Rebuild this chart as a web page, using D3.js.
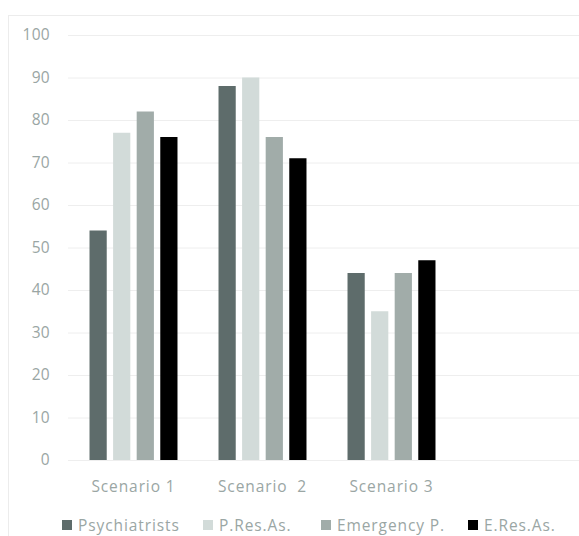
<!DOCTYPE html>
<html><head><meta charset="utf-8">
<script src="https://cdn.jsdelivr.net/npm/d3@7"></script>
<style>html,body{margin:0;padding:0;background:#fff;}svg{display:block;}</style>
</head><body>
<svg id="c" width="579" height="536"></svg>
<script>
const categories = ["Scenario 1", "Scenario  2", "Scenario 3"];
const seriesNames = ["Psychiatrists", "P.Res.As.", "Emergency P.", "E.Res.As."];
const psychiatrists = [54, 88, 44];
const pResAs = [77, 90, 35];
const emergencyP = [82, 76, 44];
const eResAs = [76, 71, 47];
const yTicks = [0, 10, 20, 30, 40, 50, 60, 70, 80, 90, 100];
const colors = ["#5e6c6b", "#d2dbd9", "#a1aca9", "#000000"];

const series = [psychiatrists, pResAs, emergencyP, eResAs];
const svg = d3.select("#c");
const textColor = "#9aa6a4";
const font = "'Open Sans', sans-serif";

// chart frame
svg.append("line").attr("x1", 8.5).attr("x2", 8.5).attr("y1", 15).attr("y2", 536).attr("stroke", "#ececec");
svg.append("line").attr("x1", 8).attr("x2", 579).attr("y1", 15.5).attr("y2", 15.5).attr("stroke", "#ececec");

const y = d3.scaleLinear().domain([0, 100]).range([460, 35]);
const x = d3.scaleBand().domain(categories).range([69, 69 + 129 * 3]).paddingInner(0.318).paddingOuter(0.159);
const xs = d3.scaleBand().domain(seriesNames).range([0, x.bandwidth()]).paddingInner(0.27);

// gridlines
const yAxis = d3.axisLeft(y).tickValues(yTicks).tickSize(-(579 - 68)).tickPadding(18);
const gy = svg.append("g").attr("transform", "translate(68,0)").call(yAxis);
gy.select(".domain").remove();
gy.selectAll(".tick line").attr("stroke", "#eeeeee");
gy.selectAll(".tick text").attr("fill", textColor).attr("font-family", font).attr("font-size", 15.5)
  .attr("letter-spacing", "0.3px");

// bars
const groups = svg.append("g").selectAll("g").data(categories).join("g")
  .attr("transform", d => `translate(${x(d)},0)`);
groups.selectAll("rect").data((d, i) => seriesNames.map((s, j) => ({ s, j, v: series[j][i] })))
  .join("rect")
  .attr("x", d => xs(d.s))
  .attr("width", xs.bandwidth())
  .attr("y", d => y(d.v))
  .attr("height", d => y(0) - y(d.v))
  .attr("fill", d => colors[d.j]);

// x axis labels
const xAxis = d3.axisBottom(x).tickSize(0).tickPadding(21);
const gx = svg.append("g").attr("transform", "translate(0,460)").call(xAxis);
gx.select(".domain").remove();
gx.selectAll(".tick text").attr("fill", textColor).attr("font-family", font).attr("font-size", 15.5)
  .attr("letter-spacing", "0.9px").style("white-space", "pre");

// legend
const legendX = [62, 203, 321, 468];
const leg = svg.append("g").selectAll("g").data(seriesNames).join("g")
  .attr("transform", (d, i) => `translate(${legendX[i]},520)`);
leg.append("rect").attr("width", 10).attr("height", 10).attr("fill", (d, i) => colors[i]);
leg.append("text").attr("x", 16).attr("y", 10.5).text(d => d)
  .attr("fill", textColor).attr("font-family", font).attr("font-size", 15.5).attr("letter-spacing", "0.9px");
</script>
</body></html>
